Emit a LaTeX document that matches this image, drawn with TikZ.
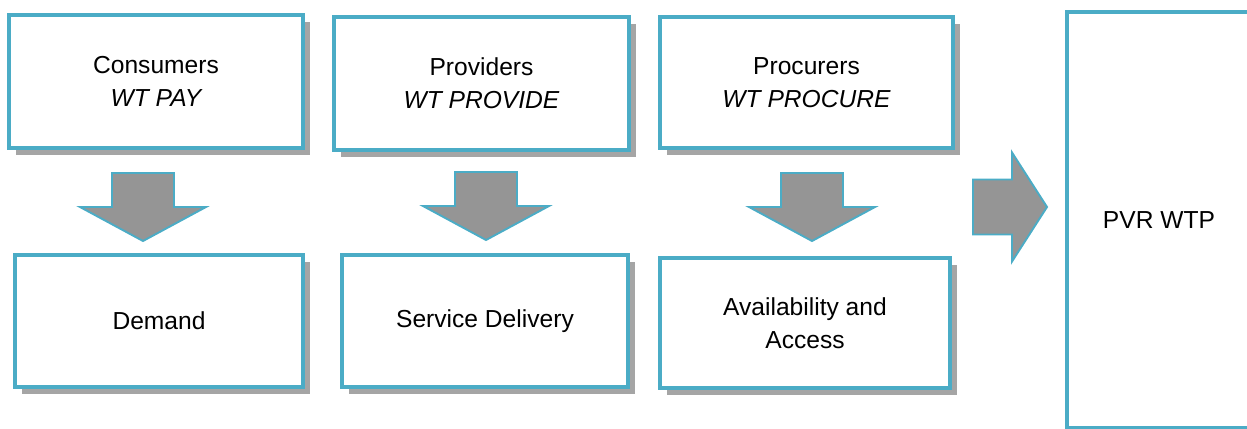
\documentclass[tikz,border=0pt]{standalone}
\usepackage{fontspec}
\setmainfont{Liberation Sans}
\usepackage{tikz}
\usetikzlibrary{shadows}
\definecolor{aqua}{HTML}{4BACC6}
\definecolor{blockgray}{HTML}{959595}
\definecolor{shade}{HTML}{A5A5A5}

\begin{document}
\begin{tikzpicture}[x=0.02cm,y=0.02cm,
  box/.style={draw=aqua,line width=1.8pt,fill=white,align=center,inner sep=2pt,
    font=\fontsize{14}{19}\selectfont,
    drop shadow={shadow xshift=3.8pt,shadow yshift=-3.8pt,fill=shade,opacity=1}},
  blk/.style={draw=aqua,line width=1.1pt,fill=blockgray,line join=miter}]
\useasboundingbox (0,0) rectangle (1247,-429);
\node[box,minimum width=294*0.02cm,minimum height=133*0.02cm] (cons) at (156,-81.5) {Consumers\\\itshape WT PAY};
\node[box,minimum width=295*0.02cm,minimum height=133*0.02cm] (prov) at (481.5,-83.5) {Providers\\\itshape WT PROVIDE};
\node[box,minimum width=293*0.02cm,minimum height=131*0.02cm] (proc) at (806.5,-82.5) {Procurers\\\itshape WT PROCURE};
\node[box,minimum width=288*0.02cm,minimum height=132*0.02cm] (dem) at (159,-321) {Demand};
\node[box,minimum width=286*0.02cm,minimum height=132*0.02cm] (serv) at (485,-321) {Service Delivery};
\node[box,minimum width=290*0.02cm,minimum height=130*0.02cm] (avail) at (805,-323) {Availability and\\Access};
\node[box,minimum width=184*0.02cm,minimum height=416*0.02cm] (pvr) at (1159,-220) {PVR WTP};
\coordinate (t1) at (143,-241);
\coordinate (t2) at (486,-240);
\coordinate (t3) at (812,-241);
\coordinate (t4) at (1047,-207);
\foreach \t in {t1,t2,t3}
  \draw[blk] (\t) -- ++(-63,34) -- ++(32,0) -- ++(0,34) -- ++(62,0) -- ++(0,-34) -- ++(32,0) -- cycle;
\draw[blk] (t4) -- ++(-35,54.5) -- ++(0,-27) -- ++(-39,0) -- ++(0,-55) -- ++(39,0) -- ++(0,-27) -- cycle;
\end{tikzpicture}
\end{document}
